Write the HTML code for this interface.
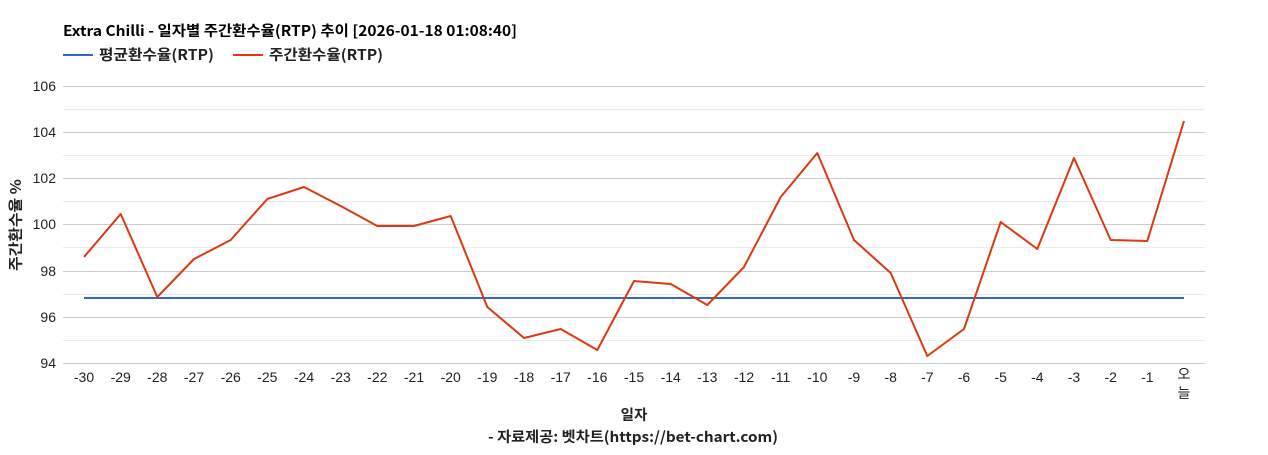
<!DOCTYPE html>
<html><head><meta charset="utf-8"><style>
body{margin:0;background:#fff;}
svg text{font-family:"Liberation Sans","Noto Sans CJK KR",sans-serif;}
svg text.n{font-family:"Noto Sans CJK KR",sans-serif;}
</style></head><body>
<svg width="1268" height="450" xmlns="http://www.w3.org/2000/svg">
<rect width="1268" height="450" fill="#fff"/>
<text class="n" x="63" y="36" font-size="14.5" font-weight="bold" fill="#000" textLength="454" lengthAdjust="spacingAndGlyphs">Extra Chilli - 일자별 주간환수율(RTP) 추이 [2026-01-18 01:08:40]</text>
<line x1="63" y1="55" x2="93" y2="55" stroke="#3366cc" stroke-width="2"/>
<text class="n" x="99" y="60" font-size="14.5" font-weight="bold" fill="#222" textLength="115" lengthAdjust="spacingAndGlyphs">평균환수율(RTP)</text>
<line x1="233" y1="55" x2="263" y2="55" stroke="#dc3912" stroke-width="2"/>
<text class="n" x="269" y="60" font-size="14.5" font-weight="bold" fill="#222" textLength="114" lengthAdjust="spacingAndGlyphs">주간환수율(RTP)</text>
<g stroke="#ebebeb" stroke-width="1">
<line x1="63" x2="1205" y1="109.5" y2="109.5"/><line x1="63" x2="1205" y1="155.5" y2="155.5"/>
<line x1="63" x2="1205" y1="201.5" y2="201.5"/><line x1="63" x2="1205" y1="247.5" y2="247.5"/>
<line x1="63" x2="1205" y1="294.5" y2="294.5"/><line x1="63" x2="1205" y1="340.5" y2="340.5"/>
</g>
<g stroke="#ccc" stroke-width="1">
<line x1="63" x2="1205" y1="86.5" y2="86.5"/><line x1="63" x2="1205" y1="132.5" y2="132.5"/>
<line x1="63" x2="1205" y1="178.5" y2="178.5"/><line x1="63" x2="1205" y1="224.5" y2="224.5"/>
<line x1="63" x2="1205" y1="271.5" y2="271.5"/><line x1="63" x2="1205" y1="317.5" y2="317.5"/>
<line x1="63" x2="1205" y1="363.5" y2="363.5"/>
</g>
<g font-size="14" fill="#222" text-anchor="end">
<text x="56" y="91">106</text><text x="56" y="137">104</text><text x="56" y="183">102</text>
<text x="56" y="229">100</text><text x="56" y="276">98</text><text x="56" y="322">96</text><text x="56" y="368">94</text>
</g>
<text class="n" transform="translate(21,225) rotate(-90)" font-size="14.5" font-weight="bold" text-anchor="middle" fill="#222" textLength="92" lengthAdjust="spacingAndGlyphs">주간환수율 %</text>
<g font-size="14" fill="#222" text-anchor="middle">
<text x="84" y="382">-30</text><text x="120.7" y="382">-29</text><text x="157.3" y="382">-28</text><text x="194" y="382">-27</text><text x="230.7" y="382">-26</text><text x="267.3" y="382">-25</text><text x="304" y="382">-24</text><text x="340.7" y="382">-23</text><text x="377.3" y="382">-22</text><text x="414" y="382">-21</text><text x="450.7" y="382">-20</text><text x="487.3" y="382">-19</text><text x="524" y="382">-18</text><text x="560.7" y="382">-17</text><text x="597.3" y="382">-16</text><text x="634" y="382">-15</text><text x="670.7" y="382">-14</text><text x="707.3" y="382">-13</text><text x="744" y="382">-12</text><text x="780.7" y="382">-11</text><text x="817.3" y="382">-10</text><text x="854" y="382">-9</text><text x="890.7" y="382">-8</text><text x="927.3" y="382">-7</text><text x="964" y="382">-6</text><text x="1000.7" y="382">-5</text><text x="1037.3" y="382">-4</text><text x="1074" y="382">-3</text><text x="1110.7" y="382">-2</text><text x="1147.3" y="382">-1</text>
<text x="1184" y="379">오</text><text x="1184" y="398">늘</text>
<text class="n" x="634" y="420" font-size="14.5" font-weight="bold">일자</text>
<text class="n" x="633" y="442" font-size="14.5" font-weight="bold" textLength="290" lengthAdjust="spacingAndGlyphs">- 자료제공: 벳차트(https://bet-chart.com)</text>
</g>
<line x1="84" y1="298" x2="1184" y2="298" stroke="#3366cc" stroke-width="2"/>
<polyline fill="none" stroke="#dc3912" stroke-width="2" stroke-linejoin="round" points="84,257 120.7,214 157.3,297 194,259 230.7,240 267.3,199 304,187 340.7,206 377.3,226 414,226 450.7,216 487.3,307 524,338 560.7,329 597.3,350 634,281 670.7,284 707.3,305 744,267 780.7,197 817.3,153 854,240 890.7,273 927.3,356 964,329 1000.7,222 1037.3,249 1074,158 1110.7,240 1147.3,241 1184,121"/>
</svg>
</body></html>
